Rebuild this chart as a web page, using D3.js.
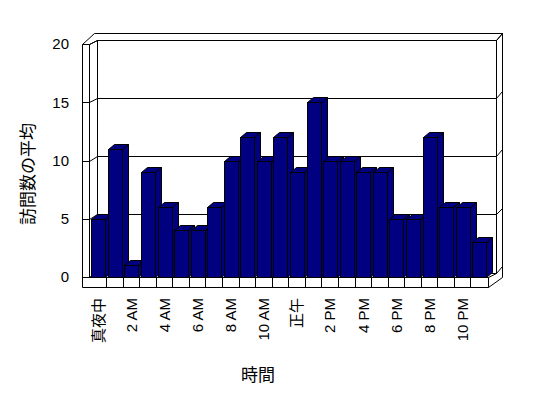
<!DOCTYPE html>
<html>
<head>
<meta charset="utf-8">
<script src="https://cdn.jsdelivr.net/npm/d3@7"></script>
<style>
  body { margin: 0; background: #fff; }
  text { font-family: "Liberation Sans", Arial, "Noto Sans CJK JP", sans-serif; fill: #000; }
</style>
</head>
<body>
<div id="chart"></div>
<script>
// hours of the day, only every second one gets a label
const hours = ["真夜中", "1 AM", "2 AM", "3 AM", "4 AM", "5 AM", "6 AM", "7 AM", "8 AM", "9 AM", "10 AM", "11 AM",
  "正午", "1 PM", "2 PM", "3 PM", "4 PM", "5 PM", "6 PM", "7 PM", "8 PM", "9 PM", "10 PM", "11 PM"];
const visits = [5, 11, 1, 9, 6, 4, 4, 6, 10, 12, 10, 12, 9, 15, 10, 10, 9, 9, 5, 5, 12, 6, 6, 3];
const yTicks = [0, 5, 10, 15, 20];
const yTitle = "訪問数の平均";
const xTitle = "時間";

const width = 548, height = 398;
const navy = "#000080";

// oblique projection offsets
const wallX = 82;          // outer left edge of side wall
const back = [7.5, -4.5];  // front plane -> back wall face
const thick = [6.7, -6.7]; // back wall thickness
const barDepth = [6, -5];
const floorH = 10;

const svg = d3.select("#chart").append("svg")
  .attr("width", width)
  .attr("height", height);

const x = d3.scaleBand().domain(hours).range([90, 487.5]);
const y = d3.scaleLinear().domain([0, 20]).range([277, 44]);

const px = v => Math.round(v) + 0.5;
const x0 = x.range()[0] - 1, x1 = x.range()[1];
const y0 = y(0), yTop = y(20);
const bx0 = x0 + back[0], bx1 = x1 + back[0] + 0.5;
const by0 = y0 + back[1], byTop = yTop + back[1];
const outTop = byTop + thick[1], outRight = bx1 + thick[0];

const line = (g, a, b) => g.append("line")
  .attr("x1", px(a[0])).attr("y1", px(a[1]))
  .attr("x2", px(b[0])).attr("y2", px(b[1]))
  .attr("stroke", "#000").attr("stroke-width", 1);

const frame = svg.append("g").attr("class", "frame");

// outer silhouette of walls + floor
frame.append("polygon")
  .attr("points", [
    [wallX, yTop], [wallX + 12, outTop], [outRight, outTop], [outRight, y0],
    [x1, y0 + floorH], [wallX, y0 + floorH]
  ].map(p => [px(p[0]), px(p[1])].join(",")).join(" "))
  .attr("fill", "#fff").attr("stroke", "#000");

// back wall face
frame.append("rect")
  .attr("x", px(bx0)).attr("y", px(byTop))
  .attr("width", Math.round(bx1 - bx0)).attr("height", Math.round(by0 - byTop))
  .attr("fill", "#fff").attr("stroke", "#000");

line(frame, [wallX, yTop], [x0, yTop]);
line(frame, [x0, yTop], [x0, y0]);
line(frame, [x0, yTop], [bx0, byTop]);
line(frame, [bx1, byTop], [outRight, outTop]);
line(frame, [x0, y0], [x1, y0]);
line(frame, [x0, y0], [bx0, by0]);
line(frame, [x1, y0], [x1, y0 + floorH]);
line(frame, [x1, y0], [bx1, by0]);

// floor dividers
frame.selectAll(".div")
  .data(hours.slice(1))
  .enter()
  .append("line")
  .attr("x1", d => px(x(d) - 0.5)).attr("x2", d => px(x(d) - 0.5))
  .attr("y1", px(y0)).attr("y2", px(y0 + floorH))
  .attr("stroke", "#000");

// gridlines, wrapping round the walls
yTicks.forEach(t => {
  const ty = y(t);
  line(frame, [wallX, ty], [x0, ty]);
  line(frame, [x0, ty], [bx0, ty + back[1]]);
  line(frame, [bx0, ty + back[1]], [bx1, ty + back[1]]);
  line(frame, [bx1, ty + back[1]], [outRight, ty + back[1] + thick[1]]);
});

// bars
const bars = svg.append("g").attr("class", "bars");
const bw = x.bandwidth() - 2.6;
const pts = arr => arr.map(p => [px(p[0]), px(p[1])].join(",")).join(" ");

hours.forEach((h, i) => {
  const bl = x(h) + 1.3, br = bl + bw, bt = y(visits[i]);
  const dx = barDepth[0], dy = barDepth[1];
  bars.append("polygon")
    .attr("points", pts([[br, bt], [br + dx, bt + dy], [br + dx, y0 + dy], [br, y0]]))
    .attr("fill", navy).attr("stroke", "#000");
  bars.append("polygon")
    .attr("points", pts([[bl, bt], [bl + dx, bt + dy], [br + dx, bt + dy], [br, bt]]))
    .attr("fill", navy).attr("stroke", "#000");
  bars.append("rect")
    .attr("x", px(bl)).attr("y", px(bt))
    .attr("width", Math.round(br) - Math.round(bl)).attr("height", Math.round(y0) - Math.round(bt))
    .attr("fill", navy).attr("stroke", "#000");
});

// y tick labels
svg.append("g").selectAll("text")
  .data(yTicks)
  .enter()
  .append("text")
  .attr("x", 69)
  .attr("y", d => y(d))
  .attr("dy", "0.35em")
  .attr("text-anchor", "end")
  .style("font-size", "15px")
  .text(d => d);

// x labels, every other hour
svg.append("g").selectAll("text")
  .data(hours.filter((d, i) => i % 2 === 0))
  .enter()
  .append("text")
  .attr("transform", d => "translate(" + (x(d) + x.bandwidth() / 2) + ",298) rotate(-90)")
  .attr("dy", "0.35em")
  .attr("text-anchor", "end")
  .style("font-size", "15px")
  .text(d => d);

// axis titles
svg.append("text")
  .attr("transform", "translate(28,174) rotate(-90)")
  .attr("dy", "0.35em")
  .attr("text-anchor", "middle")
  .style("font-size", "17px")
  .text(yTitle);

svg.append("text")
  .attr("x", 258)
  .attr("y", 375)
  .attr("dy", "0.35em")
  .attr("text-anchor", "middle")
  .style("font-size", "17px")
  .text(xTitle);
</script>
</body>
</html>
